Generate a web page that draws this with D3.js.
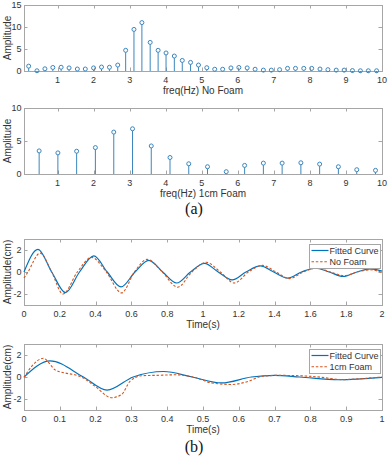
<!DOCTYPE html>
<html>
<head>
<meta charset="utf-8">
<script src="https://cdn.jsdelivr.net/npm/d3@7"></script>
<style>
  body { margin: 0; background: #fff; }
  svg { display: block; font-family: "Liberation Sans", Arial, sans-serif; }
</style>
</head>
<body>
<div id="chart"></div>
<script>
const width = 389;
const height = 457;

// (a) spectra
const freqNoFoam = [0.20, 0.43, 0.65, 0.87, 1.10, 1.32, 1.55, 1.77, 2.00, 2.22, 2.44, 2.67, 2.89, 3.12, 3.34,
    3.57, 3.79, 4.01, 4.24, 4.46, 4.69, 4.91, 5.14, 5.36, 5.58, 5.81, 6.03, 6.26, 6.48, 6.71, 6.93, 7.16,
    7.38, 7.60, 7.83, 8.05, 8.28, 8.50, 8.73, 8.95, 9.18, 9.40, 9.62, 9.85];
const ampNoFoam = [1.1, 0.05, 0.5, 0.8, 0.85, 0.7, 0.45, 0.45, 0.7, 0.9, 0.85, 1.35, 4.7, 9.45, 11.0,
    6.5, 4.7, 4.1, 3.4, 2.4, 1.95, 1.35, 0.75, 0.4, 0.4, 0.7, 0.8, 0.7, 0.4, 0.2, 0.2, 0.3,
    0.6, 0.6, 0.6, 0.6, 0.45, 0.3, 0.2, 0.2, 0.1, 0.05, 0.05, 0.05];
const freq1cm = [0.49, 1.01, 1.53, 2.05, 2.56, 3.08, 3.60, 4.12, 4.64, 5.16, 5.68, 6.19, 6.71, 7.23, 7.75,
    8.27, 8.79, 9.30, 9.82];
const amp1cm = [3.5, 3.2, 3.45, 4.0, 6.35, 6.85, 4.25, 2.5, 1.55, 1.1, 0.35, 1.3, 1.65, 1.65, 1.7,
    1.5, 1.1, 0.65, 0.55];

// (b) time responses [t, amplitude]
const fitNoFoam = [[0, 0], [0.078, 2.05], [0.155, 0], [0.232, -1.88], [0.31, 0], [0.39, 1.47], [0.465, 0],
    [0.542, -1.36], [0.62, 0], [0.697, 1.06], [0.775, 0], [0.853, -1.0], [0.93, 0], [1.008, 0.78],
    [1.085, 0], [1.163, -0.72], [1.24, 0], [1.32, 0.55], [1.395, 0], [1.473, -0.55], [1.55, 0],
    [1.628, 0.36], [1.705, 0], [1.783, -0.41], [1.86, 0], [1.935, 0.28], [2.0, 0.08]];
const measNoFoam = [[0, -0.55], [0.022, 0], [0.09, 1.72], [0.154, 0], [0.218, -2.0], [0.298, 0],
    [0.378, 1.33], [0.46, 0], [0.545, -1.9], [0.617, 0], [0.688, 1.15], [0.773, 0], [0.858, -1.38],
    [0.938, 0], [1.018, 0.88], [1.097, 0], [1.175, -1.0], [1.254, 0], [1.332, 0.6], [1.408, 0],
    [1.483, -0.6], [1.56, 0], [1.635, 0.36], [1.712, 0], [1.79, -0.33], [1.862, 0], [1.935, 0.2],
    [2.0, -0.05]];
const fit1cm = [[0, 0], [0.073, 1.46], [0.166, 0], [0.232, -1.19], [0.305, 0], [0.39, 0.5], [0.47, 0],
    [0.552, -0.54], [0.635, 0], [0.70, 0.15], [0.77, 0], [0.88, -0.25], [1.0, -0.03]];
const meas1cm = [[0, -0.05], [0.021, 0.95], [0.054, 1.7], [0.087, 0.65], [0.115, 0.36], [0.142, 0.2],
    [0.166, -0.1], [0.198, -0.83], [0.245, -1.88], [0.273, -1.58], [0.296, -0.39], [0.329, 0.12],
    [0.368, 0.15], [0.422, 0.2], [0.478, -0.05], [0.524, -0.54], [0.58, -0.68], [0.627, -0.39],
    [0.664, 0.06], [0.71, 0.15], [0.785, 0.09], [0.832, -0.03], [0.887, -0.24], [0.943, -0.15],
    [1.0, 0]];

const freqTicks = [1, 2, 3, 4, 5, 6, 7, 8, 9, 10];
const ampTicks1 = [0, 5, 10, 15];
const ampTicks2 = [0, 5, 10];
const timeTicks1 = [0, 0.2, 0.4, 0.6, 0.8, 1, 1.2, 1.4, 1.6, 1.8, 2];
const timeTicks2 = [0, 0.1, 0.2, 0.3, 0.4, 0.5, 0.6, 0.7, 0.8, 0.9, 1];
const dispTicks = [-2, 0, 2];

const blue = "#0072BD";
const stemBlue = "#3b86bd";
const orange = "#D95319";
const axisGrey = "#a6a6a6";
const textColor = "#333";
const left = 24, right = 382;
const tickLen = 3.5;
const fmt = d => String(+d.toFixed(1));

const svg = d3.select("#chart")
    .append("svg")
    .attr("width", width)
    .attr("height", height);

function drawFrame(x, y, top, bottom, xTicks, yTicks, xLabel, yLabel) {
    const g = svg.append("g");
    g.append("rect")
        .attr("x", left + 0.5).attr("y", top + 0.5)
        .attr("width", right - left).attr("height", bottom - top)
        .attr("fill", "#fff")
        .attr("stroke", axisGrey)
        .attr("stroke-width", 1);

    // ticks on all four sides, pointing inward
    xTicks.forEach(t => {
        const px = Math.round(x(t)) + 0.5;
        g.append("line").attr("x1", px).attr("x2", px)
            .attr("y1", bottom).attr("y2", bottom - tickLen).attr("stroke", axisGrey);
        g.append("line").attr("x1", px).attr("x2", px)
            .attr("y1", top).attr("y2", top + tickLen).attr("stroke", axisGrey);
        g.append("text")
            .attr("x", x(t)).attr("y", bottom + 12)
            .attr("text-anchor", "middle")
            .attr("font-size", 9).attr("fill", textColor)
            .text(fmt(t));
    });
    yTicks.forEach(t => {
        const py = Math.round(y(t)) + 0.5;
        g.append("line").attr("x1", left).attr("x2", left + tickLen)
            .attr("y1", py).attr("y2", py).attr("stroke", axisGrey);
        g.append("line").attr("x1", right).attr("x2", right - tickLen)
            .attr("y1", py).attr("y2", py).attr("stroke", axisGrey);
        g.append("text")
            .attr("x", left - 2.5).attr("y", y(t) + 3.2)
            .attr("text-anchor", "end")
            .attr("font-size", 9).attr("fill", textColor)
            .text(fmt(t));
    });

    g.append("text")
        .attr("x", (left + right) / 2).attr("y", bottom + 22.5)
        .attr("text-anchor", "middle")
        .attr("font-size", 10).attr("fill", textColor)
        .text(xLabel);
    g.append("text")
        .attr("transform", `translate(11,${(top + bottom) / 2}) rotate(-90)`)
        .attr("text-anchor", "middle")
        .attr("font-size", 10).attr("fill", textColor)
        .text(yLabel);
    return g;
}

function drawStems(freqs, amps, top, bottom, yMax, yTicks, xLabel) {
    const x = d3.scaleLinear().domain([0.07, 10]).range([left, right]);
    const y = d3.scaleLinear().domain([0, yMax]).range([bottom, top]);
    const g = drawFrame(x, y, top, bottom, freqTicks, yTicks, xLabel, "Amplitude");
    const data = freqs.map((f, i) => ({ f, a: amps[i] }));
    g.selectAll(".stem")
        .data(data)
        .join("line")
        .attr("x1", d => x(d.f)).attr("x2", d => x(d.f))
        .attr("y1", y(0)).attr("y2", d => y(d.a) + 2)
        .attr("stroke", stemBlue).attr("stroke-width", 1);
    g.selectAll(".mark")
        .data(data)
        .join("circle")
        .attr("cx", d => x(d.f)).attr("cy", d => y(d.a))
        .attr("r", 2)
        .attr("fill", "none")
        .attr("stroke", stemBlue).attr("stroke-width", 1);
}

function drawResponse(fit, meas, top, bottom, tMax, tTicks, measName) {
    const x = d3.scaleLinear().domain([0, tMax]).range([left, right]);
    const y = d3.scaleLinear().domain([-3, 3]).range([bottom, top]);
    const g = drawFrame(x, y, top, bottom, tTicks, dispTicks, "Time(s)", "Amplitude(cm)");
    const line = d3.line()
        .x(d => x(d[0])).y(d => y(d[1]))
        .curve(d3.curveMonotoneX);
    g.append("path")
        .attr("d", line(fit))
        .attr("fill", "none")
        .attr("stroke", blue).attr("stroke-width", 1.2);
    g.append("path")
        .attr("d", line(meas))
        .attr("fill", "none")
        .attr("stroke", orange).attr("stroke-width", 1.1)
        .attr("stroke-dasharray", "2.5,1.8");

    // legend
    const lx = 309, ly = top + 5;
    g.append("rect")
        .attr("x", lx + 0.5).attr("y", ly + 0.5)
        .attr("width", 71).attr("height", 24)
        .attr("fill", "#fff").attr("stroke", axisGrey);
    const entries = [
        { name: "Fitted Curve", color: blue, dash: null, w: 1.2 },
        { name: measName, color: orange, dash: "2.5,1.8", w: 1.1 }
    ];
    entries.forEach((e, i) => {
        const cy = ly + 6.5 + i * 11.3;
        g.append("line")
            .attr("x1", lx + 2.5).attr("x2", lx + 19.5)
            .attr("y1", cy).attr("y2", cy)
            .attr("stroke", e.color).attr("stroke-width", e.w)
            .attr("stroke-dasharray", e.dash);
        g.append("text")
            .attr("x", lx + 20.5).attr("y", cy + 3.2)
            .attr("font-size", 9).attr("fill", textColor)
            .text(e.name);
    });
}

drawStems(freqNoFoam, ampNoFoam, 5, 71, 15, ampTicks1, "freq(Hz) No Foam");
drawStems(freq1cm, amp1cm, 108, 174, 10, ampTicks2, "freq(Hz) 1cm Foam");
drawResponse(fitNoFoam, measNoFoam, 239, 305, 2, timeTicks1, "No Foam");
drawResponse(fit1cm, meas1cm, 344, 410, 1, timeTicks2, "1cm Foam");

// panel captions
svg.append("text")
    .attr("x", 194).attr("y", 214)
    .attr("text-anchor", "middle")
    .attr("font-family", "'Liberation Serif', 'Times New Roman', serif")
    .attr("font-size", 16).attr("fill", "#111")
    .text("(a)");
svg.append("text")
    .attr("x", 194).attr("y", 452)
    .attr("text-anchor", "middle")
    .attr("font-family", "'Liberation Serif', 'Times New Roman', serif")
    .attr("font-size", 16).attr("fill", "#111")
    .text("(b)");
</script>
</body>
</html>
